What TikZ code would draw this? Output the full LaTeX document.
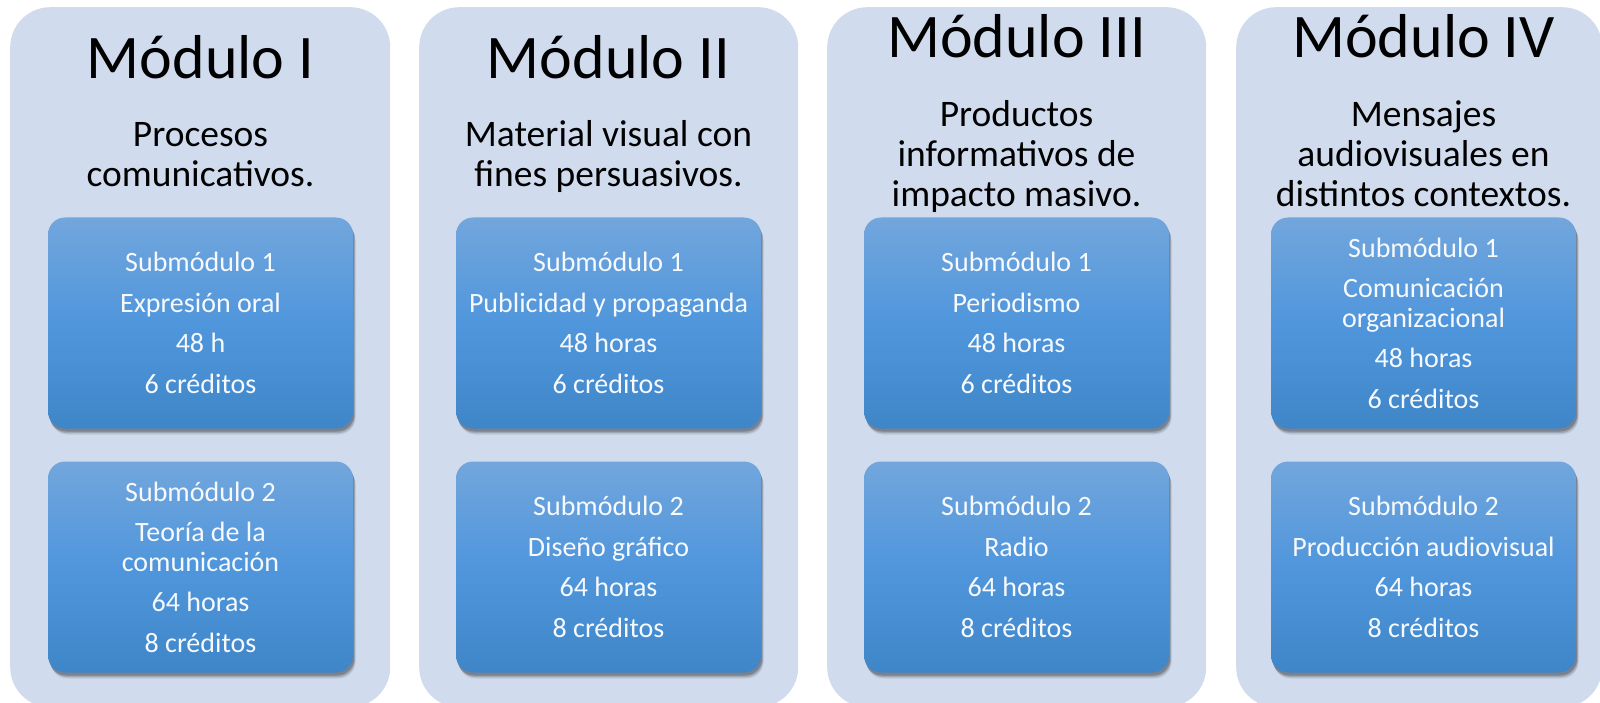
\documentclass[tikz,border=0pt]{standalone}
\usepackage{fontspec}
\setmainfont{Carlito}
\usetikzlibrary{shadows}
\definecolor{colbg}{RGB}{208,220,238}
\definecolor{boxtop}{RGB}{114,166,220}
\definecolor{boxmid}{RGB}{80,150,220}
\definecolor{boxbot}{RGB}{63,134,200}
\definecolor{boxtext}{RGB}{246,249,253}
\tikzset{
  column/.style={fill=colbg, draw=none, rounded corners=40pt, minimum height=700pt, anchor=north west, inner sep=0pt},
  subbox/.style={rounded corners=17pt, minimum width=305pt, minimum height=211pt, inner sep=0pt,
    top color=boxtop, bottom color=boxbot, middle color=boxmid, draw=none,
    text=boxtext, align=center, font=\fontsize{28}{29.5}\selectfont,
    drop shadow={shadow xshift=2.5pt, shadow yshift=-6pt, opacity=0.10, fill=black},
    drop shadow={shadow xshift=2pt, shadow yshift=-4.5pt, opacity=0.15, fill=black},
    drop shadow={shadow xshift=1.2pt, shadow yshift=-3pt, opacity=0.22, fill=black}},
  modtitle/.style={anchor=base, font=\fontsize{62}{62}\selectfont, inner sep=0pt},
  modsub/.style={anchor=base, font=\fontsize{37.5}{41}\selectfont, inner sep=0pt},
}
\begin{document}
\begin{tikzpicture}[x=1pt, y=-1pt]
\useasboundingbox (0,0) rectangle (1600,703);
% columns
\node[column, minimum width=380pt] (c1) at (10,7) {};
\node[column, minimum width=379pt] (c2) at (419,7) {};
\node[column, minimum width=379pt] (c3) at (827,7) {};
\node[column, minimum width=366pt] (c4) at (1236,7) {};
% titles
\node[modtitle] (t1) at (200.5,79) {Módulo I};
\node[modtitle] (t2) at (608.5,79) {Módulo II};
\node[modtitle] (t3) at (1016.5,58) {Módulo III};
\node[modtitle] (t4) at (1423.5,58) {Módulo IV};
% subtitles
\node[modsub] (s1a) at (200.5,147) {Procesos};
\node[modsub] (s1b) at (200.5,187) {comunicativos.};
\node[modsub] (s2a) at (608.5,147) {Material visual con};
\node[modsub] (s2b) at (608.5,187) {fines persuasivos.};
\node[modsub] (s3a) at (1016.5,127) {Productos};
\node[modsub] (s3b) at (1016.5,167) {informativos de};
\node[modsub] (s3c) at (1016.5,207) {impacto masivo.};
\node[modsub] (s4a) at (1423.5,127) {Mensajes};
\node[modsub] (s4b) at (1423.5,167) {audiovisuales en};
\node[modsub] (s4c) at (1423.5,207) {distintos contextos.};
% submodule boxes
\node[subbox] (b11) at (200.5,323) {Submódulo 1\\[11pt]Expresión oral\\[11pt]48 h\\[11pt]6 créditos};
\node[subbox] (b12) at (200.5,567) {Submódulo 2\\[11pt]Teoría de la\\comunicación\\[11pt]64 horas\\[11pt]8 créditos};
\node[subbox] (b21) at (608.5,323) {Submódulo 1\\[11pt]Publicidad y propaganda\\[11pt]48 horas\\[11pt]6 créditos};
\node[subbox] (b22) at (608.5,567) {Submódulo 2\\[11pt]Diseño gráfico\\[11pt]64 horas\\[11pt]8 créditos};
\node[subbox] (b31) at (1016.5,323) {Submódulo 1\\[11pt]Periodismo\\[11pt]48 horas\\[11pt]6 créditos};
\node[subbox] (b32) at (1016.5,567) {Submódulo 2\\[11pt]Radio\\[11pt]64 horas\\[11pt]8 créditos};
\node[subbox] (b41) at (1423.5,323) {Submódulo 1\\[11pt]Comunicación\\organizacional\\[11pt]48 horas\\[11pt]6 créditos};
\node[subbox] (b42) at (1423.5,567) {Submódulo 2\\[11pt]Producción audiovisual\\[11pt]64 horas\\[11pt]8 créditos};
\end{tikzpicture}
\end{document}
